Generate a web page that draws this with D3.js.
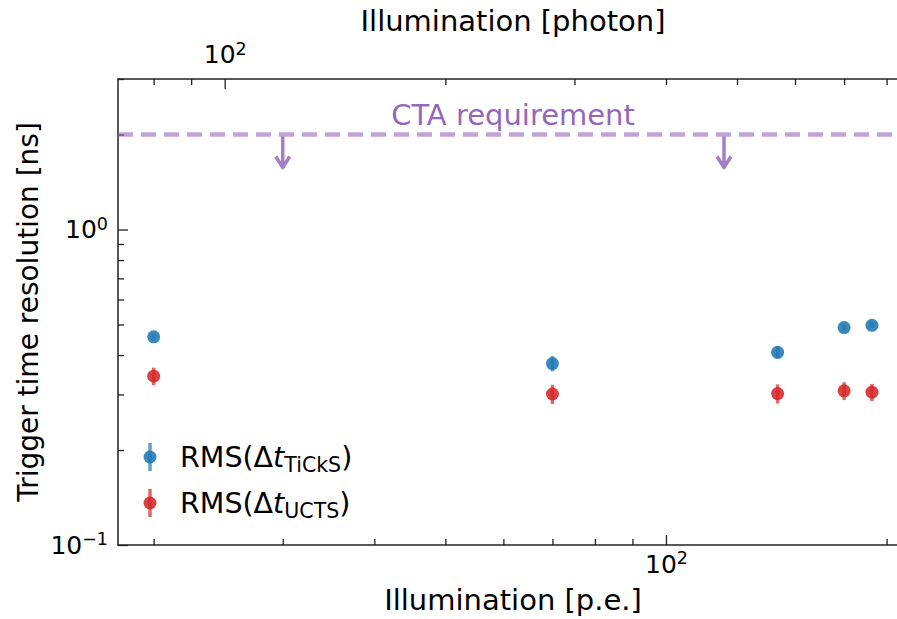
<!DOCTYPE html>
<html>
<head>
<meta charset="utf-8">
<script src="https://cdn.jsdelivr.net/npm/d3@7"></script>
<style>
  body { margin: 0; background: #fff; }
  svg { display: block; font-family: "DejaVu Sans", sans-serif; }
</style>
</head>
<body>
<div id="chart"></div>
<script>
// illumination of each run, in photo-electrons
var illumination = [20, 70, 142, 175, 191];
// RMS of trigger time difference, TiCkS vs UCTS [ns]
var rmsTicks    = [0.457, 0.376, 0.408, 0.489, 0.497];
var rmsTicksErr = [0.008, 0.021, 0.018, 0.010, 0.010];
var rmsUcts     = [0.343, 0.301, 0.302, 0.308, 0.305];
var rmsUctsErr  = [0.022, 0.021, 0.021, 0.020, 0.019];
// requirement line and where its arrows sit (p.e.)
var ctaRequirement = 2;
var arrowAt = [30, 120];
// photons per p.e. for the top axis
var photonPerPe = 4;
var xDomain = [17.88, 213.9];
var yDomain = [0.1, 3];
var xMinor = [20, 30, 40, 50, 60, 70, 80, 90, 200];
var xTopMinor = [80, 90, 200, 300, 400, 500, 600, 700, 800];
var yMinor = [0.2, 0.3, 0.4, 0.5, 0.6, 0.7, 0.8, 0.9, 2, 3];

(function(){

  var margin = {top: 79, left: 118},
      width = 790,
      height = 466;

  var svg = d3.select("#chart")
    .append("svg")
      .attr("width", 897)
      .attr("height", 619);

  var g = svg.append("g")
      .attr("transform", "translate(" + margin.left + "," + margin.top + ")");

  var x = d3.scaleLog().domain(xDomain).range([0, width]);
  var xTop = d3.scaleLog().domain(xDomain.map(function(d){ return d * photonPerPe; })).range([0, width]);
  var y = d3.scaleLog().domain(yDomain).range([height, 0]);

  // superscript labels like 10^2
  function pow10(sel, exp) {
    sel.each(function(){
      var t = d3.select(this).text("10");
      t.append("tspan").attr("dy", "-0.48em").attr("font-size", "0.7em").text(exp);
    });
  }

  function styleAxis(ax) {
    ax.select(".domain").remove();
    ax.selectAll("line").attr("stroke", "#222").attr("stroke-width", 1.3);
    ax.selectAll("text").attr("fill", "#000").attr("font-size", 25).attr("font-family", "DejaVu Sans");
  }

  // bottom axis (p.e.)
  var xb = g.append("g").attr("transform", "translate(0," + height + ")")
    .call(d3.axisBottom(x).tickValues([100]).tickSize(-10).tickPadding(10).tickFormat(function(){ return ""; }));
  styleAxis(xb);
  pow10(xb.selectAll("text"), "2");
  var xbm = g.append("g").attr("transform", "translate(0," + height + ")")
    .call(d3.axisBottom(x).tickValues(xMinor).tickSize(-6).tickFormat(""));
  styleAxis(xbm);

  // top axis (photon)
  var xt = g.append("g")
    .call(d3.axisTop(xTop).tickValues([100]).tickSize(-10).tickPadding(16).tickFormat(function(){ return ""; }));
  styleAxis(xt);
  pow10(xt.selectAll("text"), "2");
  var xtm = g.append("g")
    .call(d3.axisTop(xTop).tickValues(xTopMinor).tickSize(-6).tickFormat(""));
  styleAxis(xtm);

  // left axis
  var yl = g.append("g")
    .call(d3.axisLeft(y).tickValues([0.1, 1]).tickSize(-10).tickPadding(10).tickFormat(function(){ return ""; }));
  styleAxis(yl);
  yl.selectAll("text").each(function(d){
    pow10(d3.select(this), d < 1 ? "\u22121" : "0");
  });
  var ylm = g.append("g")
    .call(d3.axisLeft(y).tickValues(yMinor).tickSize(-6).tickFormat(""));
  styleAxis(ylm);

  // frame
  g.append("rect")
    .attr("width", width)
    .attr("height", height)
    .attr("fill", "none")
    .attr("stroke", "#222")
    .attr("stroke-width", 1.5);

  // CTA requirement
  var yReq = y(ctaRequirement);
  g.append("line")
    .attr("x1", 0).attr("x2", width)
    .attr("y1", yReq).attr("y2", yReq)
    .attr("stroke", "#9467bd")
    .attr("stroke-opacity", 0.6)
    .attr("stroke-width", 4.5)
    .attr("stroke-dasharray", "15,8");

  g.selectAll(".arrow")
    .data(arrowAt)
    .enter()
    .append("path")
      .attr("class", "arrow")
      .attr("d", function(d){
        var ax = x(d), top = yReq + 2, tip = yReq + 33;
        return "M" + ax + "," + top + "L" + ax + "," + tip +
               "M" + (ax - 7) + "," + (tip - 11) + "L" + ax + "," + tip + "L" + (ax + 7) + "," + (tip - 11);
      })
      .attr("fill", "none")
      .attr("stroke", "#9467bd")
      .attr("stroke-opacity", 0.85)
      .attr("stroke-width", 3.5)
      .attr("stroke-linejoin", "round");

  g.append("text")
    .attr("x", width / 2)
    .attr("y", yReq - 10)
    .attr("text-anchor", "middle")
    .attr("font-size", 29)
    .attr("fill", "#9467bd")
    .text("CTA requirement");

  // series
  var series = [
    {name: "TiCkS", vals: rmsTicks, errs: rmsTicksErr, color: "#1f77b4"},
    {name: "UCTS", vals: rmsUcts, errs: rmsUctsErr, color: "#d62728"}
  ];

  series.forEach(function(s){
    var pts = illumination.map(function(v, i){ return {x: v, y: s.vals[i], e: s.errs[i]}; });
    g.selectAll(".err-" + s.name)
      .data(pts)
      .enter()
      .append("line")
        .attr("x1", function(d){ return x(d.x); })
        .attr("x2", function(d){ return x(d.x); })
        .attr("y1", function(d){ return y(d.y - d.e); })
        .attr("y2", function(d){ return y(d.y + d.e); })
        .attr("stroke", s.color)
        .attr("stroke-opacity", 0.7)
        .attr("stroke-width", 3.5);
    g.selectAll(".pt-" + s.name)
      .data(pts)
      .enter()
      .append("circle")
        .attr("cx", function(d){ return x(d.x); })
        .attr("cy", function(d){ return y(d.y); })
        .attr("r", 6.5)
        .attr("fill", s.color)
        .attr("fill-opacity", 0.88);
  });

  // legend
  var leg = svg.append("g").attr("transform", "translate(150,457)");
  series.forEach(function(s, i){
    var row = leg.append("g").attr("transform", "translate(0," + (i * 46) + ")");
    row.append("line")
      .attr("y1", -14).attr("y2", 14)
      .attr("stroke", s.color).attr("stroke-opacity", 0.7).attr("stroke-width", 3.5);
    row.append("circle").attr("r", 6.5).attr("fill", s.color).attr("fill-opacity", 0.88);
    var t = row.append("text")
      .attr("x", 30)
      .attr("y", 10)
      .attr("font-size", 28.5)
      .attr("fill", "#000");
    t.append("tspan").text("RMS(\u0394");
    t.append("tspan").attr("font-style", "italic").text("t");
    t.append("tspan").attr("dy", 5).attr("font-size", "0.72em").text(s.name);
    t.append("tspan").attr("dy", -5).text(")");
  });

  // axis titles
  svg.append("text")
    .attr("x", margin.left + width / 2)
    .attr("y", 610)
    .attr("text-anchor", "middle")
    .attr("font-size", 29)
    .text("Illumination [p.e.]");

  svg.append("text")
    .attr("x", margin.left + width / 2)
    .attr("y", 31)
    .attr("text-anchor", "middle")
    .attr("font-size", 29)
    .text("Illumination [photon]");

  svg.append("text")
    .attr("transform", "translate(38," + (margin.top + height / 2) + ") rotate(-90)")
    .attr("text-anchor", "middle")
    .attr("font-size", 28)
    .text("Trigger time resolution [ns]");

})();
</script>
</body>
</html>
